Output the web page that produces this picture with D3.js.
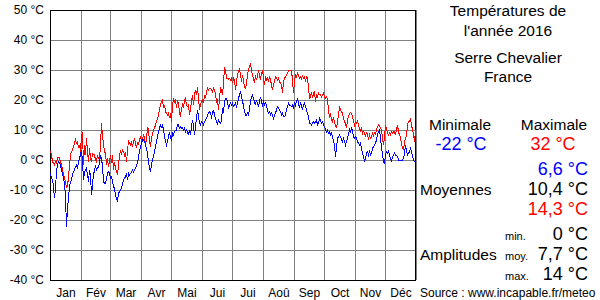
<!DOCTYPE html>
<html>
<head>
	<meta charset="utf-8">
	<title></title>
	<style>
		html, body {
			margin: 0;
			padding: 0;
			background: white;
			font-family: "Liberation Sans", Arial, sans-serif;
		}
		svg { display: block; }
		.grid line { stroke: #808080; }
		.grid .domain { display: none; }
		.ylab text { font-size: 12px; fill: #000; }
		.mlab text { font-size: 12px; fill: #000; }
		.mlab .domain, .mlab line { display: none; }
	</style>
</head>
<body>

<svg id="chart" width="600" height="300"></svg>

<script src="https://d3js.org/d3.v7.min.js"></script>
<script>

// daily maxima, 2016 (366 days), °C
var tmax = [
	3.0, 1.7, -0.6, -1.1, -1.7, -0.6, -1.1, 0.8, 0.8, 0.8,
	-0.6, -1.7, -3.3, -4.4, -6.1, -7.2, -9.4, -8.3, -6.1, -1.7,
	1.7, 2.8, 3.3, 4.4, 5.6, 6.7, 5.6, 6.1, 3.9, 5.0,
	2.8, 8.3, 8.9, -1.7, 5.0, 1.7, 7.2, 2.8, -0.6, 3.9,
	0.6, -0.6, 2.2, 1.7, 1.7, 0.0, -0.6, 1.7, 0.6, 0.0,
	5.0, 12.2, 8.3, 5.0, 2.8, 2.2, -1.7, 0.6, -2.2, -0.6,
	1.7, -1.1, 1.7, -3.3, -0.6, -2.8, -3.9, -5.0, -1.7, 1.7,
	2.8, 1.7, 3.3, 2.8, 1.7, 2.8, -0.6, 2.8, 6.7, 5.6,
	5.0, 5.9, 4.4, 6.1, 7.2, 5.6, 4.1, 6.1, 5.0, 6.7,
	7.8, 6.1, 7.2, 8.3, 7.8, 5.0, 6.7, 11.1, 10.0, 6.1,
	4.4, 7.2, 8.9, 10.0, 10.6, 11.7, 12.8, 13.9, 15.0, 16.7,
	18.3, 19.4, 20.0, 17.2, 18.3, 16.1, 15.6, 15.0, 15.6, 13.9,
	15.6, 12.8, 18.3, 20.6, 19.4, 20.0, 17.2, 20.0, 18.9, 15.6,
	14.4, 17.2, 18.3, 17.2, 20.0, 20.6, 18.3, 17.8, 18.3, 15.0,
	17.2, 19.4, 21.7, 18.3, 21.7, 23.3, 21.7, 24.4, 20.6, 16.7,
	18.3, 19.4, 20.0, 18.9, 21.7, 20.6, 22.8, 23.9, 23.3, 23.9,
	23.9, 23.3, 22.8, 23.9, 23.3, 22.2, 19.4, 20.0, 16.7, 20.6,
	23.9, 23.3, 21.7, 25.6, 30.6, 30.0, 27.2, 27.2, 27.0, 27.2,
	26.7, 27.2, 25.6, 27.2, 26.7, 23.3, 26.1, 28.3, 29.4, 30.6,
	28.3, 26.1, 28.3, 26.1, 24.4, 23.9, 25.6, 28.3, 30.0, 31.1,
	31.9, 30.0, 28.3, 27.2, 25.6, 28.3, 26.7, 27.8, 30.0, 28.3,
	26.7, 28.9, 30.0, 27.2, 25.0, 27.8, 26.7, 27.2, 26.1, 27.8,
	26.7, 25.0, 23.3, 25.0, 26.1, 27.8, 27.2, 26.7, 27.2, 26.1,
	25.6, 25.0, 22.2, 26.1, 27.2, 27.8, 28.3, 28.9, 29.7, 30.0,
	30.0, 29.7, 26.7, 22.2, 26.1, 28.3, 27.8, 28.9, 28.3, 27.2,
	27.8, 26.7, 28.3, 27.2, 27.8, 26.1, 27.8, 27.2, 24.4, 20.6,
	21.1, 22.8, 20.6, 22.2, 22.8, 19.4, 21.7, 21.1, 22.2, 21.7,
	21.7, 21.1, 21.7, 22.2, 21.1, 20.6, 21.1, 20.0, 16.7, 13.9,
	15.6, 13.3, 12.8, 14.4, 12.2, 11.7, 10.6, 12.8, 15.0, 17.8,
	16.7, 16.1, 15.6, 13.9, 12.8, 12.2, 10.6, 13.3, 14.4, 15.6,
	15.9, 15.6, 14.4, 12.8, 11.7, 12.8, 12.2, 13.3, 11.7, 10.6,
	9.4, 11.1, 8.3, 10.0, 8.9, 7.8, 9.4, 8.3, 7.2, 8.3,
	7.2, 7.8, 8.9, 7.8, 9.4, 8.3, 10.0, 11.1, 11.7, 11.4,
	10.6, 10.0, 7.2, 5.0, 7.8, 11.7, 10.6, 8.9, 8.3, 8.9,
	8.3, 9.4, 8.9, 9.4, 9.4, 8.3, 10.0, 11.7, 9.4, 8.3,
	7.8, 5.0, 4.4, 3.3, 6.1, 7.2, 8.3, 11.7, 12.8, 12.8,
	13.9, 11.7, 10.0, 8.9, 6.1, 10.0
]

// daily minima, °C
var tmin = [
	-4.4, -6.1, -6.7, -8.9, -12.8, -9.4, -3.9, -1.7, -0.6, -1.1,
	-1.7, -3.3, -4.4, -6.1, -7.8, -12.2, -22.2, -16.1, -12.8, -8.9,
	-7.2, -6.7, -5.0, -3.9, -3.3, -2.2, -1.7, -2.8, -0.6, 0.6,
	1.7, 3.3, -0.6, -6.7, -3.9, -3.3, -2.8, -5.0, -7.2, -3.3,
	-5.0, -11.7, -8.3, -4.4, -3.9, -1.7, -3.3, -2.8, -2.2, -1.1,
	1.7, 0.6, -2.2, -7.2, -7.8, -7.8, -6.1, -4.4, -3.9, -4.4,
	-6.1, -5.6, -7.2, -8.9, -9.4, -11.7, -12.8, -13.9, -11.1, -10.6,
	-10.0, -9.4, -7.8, -6.7, -6.1, -5.6, -4.4, -6.7, -4.4, -5.0,
	-4.4, -4.1, -3.3, -3.9, -3.3, -2.8, -1.7, -1.1, 1.1, 2.8,
	4.4, 5.6, 6.7, 6.7, 6.1, 5.0, 3.9, 2.2, -0.6, -2.8,
	-3.9, -1.7, 0.0, 1.1, 2.8, 4.4, 6.1, 7.8, 9.4, 10.6,
	11.7, 11.1, 11.7, 10.0, 7.8, 6.1, 5.0, 6.1, 7.8, 9.4,
	7.2, 6.7, 8.9, 8.3, 9.4, 10.0, 10.0, 11.7, 11.7, 10.6,
	11.1, 10.6, 10.8, 10.0, 10.6, 9.4, 10.0, 9.4, 8.3, 10.0,
	8.3, 11.1, 13.3, 11.1, 8.3, 11.1, 13.9, 16.7, 14.4, 12.2,
	11.7, 12.8, 12.2, 11.7, 12.8, 13.3, 13.9, 15.0, 15.6, 16.1,
	15.6, 14.4, 15.6, 16.7, 15.0, 13.9, 12.8, 11.7, 13.3, 12.8,
	12.2, 13.3, 17.2, 15.6, 19.4, 20.6, 20.6, 19.4, 17.2, 18.3,
	18.9, 18.3, 18.9, 17.8, 18.3, 18.9, 17.8, 18.9, 20.6, 21.7,
	22.8, 21.1, 19.4, 18.3, 16.1, 15.0, 15.0, 15.6, 15.0, 17.2,
	19.4, 21.1, 21.7, 20.6, 19.4, 18.3, 20.0, 18.9, 17.8, 19.4,
	21.1, 19.4, 18.3, 19.4, 18.3, 18.9, 18.3, 16.7, 15.6, 16.1,
	15.0, 15.6, 15.0, 13.9, 15.0, 15.6, 16.7, 17.8, 17.2, 16.7,
	16.1, 15.0, 15.6, 14.4, 14.4, 15.0, 16.7, 17.8, 18.9, 18.3,
	18.3, 17.8, 18.3, 17.2, 19.4, 18.3, 19.4, 20.6, 18.9, 17.2,
	19.4, 17.8, 16.7, 18.3, 18.9, 17.8, 16.7, 15.6, 14.4, 12.2,
	12.2, 11.7, 12.2, 12.8, 12.2, 12.8, 13.3, 11.7, 12.2, 13.9,
	13.3, 12.2, 12.8, 11.7, 11.1, 10.0, 9.4, 10.0, 8.9, 9.4,
	8.3, 8.9, 7.8, 6.1, 5.0, 1.1, 3.9, 7.2, 7.8, 8.3,
	7.8, 6.7, 6.1, 7.2, 6.1, 5.0, 6.1, 7.2, 8.9, 10.0,
	8.9, 11.1, 9.4, 7.8, 7.2, 7.8, 7.2, 6.1, 5.6, 5.0,
	5.6, 3.9, 2.2, 1.1, -0.6, 0.6, 2.2, 2.8, 1.7, 2.8,
	1.7, 2.2, 3.9, 4.4, 5.0, 5.6, 6.7, 8.3, 9.4, 10.0,
	7.2, 4.4, 1.7, -0.6, -1.1, 1.7, 2.8, 2.2, 3.3, 1.7,
	0.6, -0.3, 1.1, 1.7, 2.2, 1.7, 1.4, 1.1, 0.0, -0.3,
	-0.3, -0.3, 0.0, 0.6, 2.2, 5.0, 3.3, 1.7, 2.2, 2.8,
	3.9, 2.8, 1.1, 0.0, -0.6, -0.3
]

var months = ['Jan', 'Fév', 'Mar', 'Avr', 'Mai', 'Jui', 'Jui', 'Aoû', 'Sep', 'Oct', 'Nov', 'Déc']
var monthStarts = [0, 31, 60, 91, 121, 152, 182, 213, 244, 274, 305, 335, 366]
var yTicks = [-40, -30, -20, -10, 0, 10, 20, 30, 40, 50]

var titleLines = ['Températures de', "l'année 2016"]
var placeLines = ['Serre Chevalier', 'France']
var extremes = ['-22 °C', '32 °C']
var means = ['6,6 °C', '10,4 °C', '14,3 °C']
var amplitudes = ['0 °C', '7,7 °C', '14 °C']
var ampLabels = ['min.', 'moy.', 'max.']


var cfg = {
	left: 50,
	right: 416,
	top: 10,
	bottom: 280,
	panelX: 508,
}

var svg = d3.select('#chart')

var x = d3.scaleLinear()
	.domain([0, 366])
	.range([cfg.left, cfg.right])

var y = d3.scaleLinear()
	.domain([-40, 50])
	.range([cfg.bottom, cfg.top])

// horizontal grid + temperature labels
svg.append('g')
	.attr('class', 'grid ylab')
	.attr('transform', 'translate(' + cfg.left + ',0)')
	.call(d3.axisLeft(y)
		.tickValues(yTicks)
		.tickSize(-(cfg.right - cfg.left))
		.tickPadding(6)
		.tickFormat(function(d) { return d + ' °C' }))
	.call(function(g) { g.selectAll('text').attr('font-family', null) })

// vertical grid at month starts
svg.append('g')
	.attr('class', 'grid')
	.attr('transform', 'translate(0,' + cfg.bottom + ')')
	.call(d3.axisBottom(x)
		.tickValues(monthStarts)
		.tickSize(-(cfg.bottom - cfg.top))
		.tickFormat(''))

// month names, centred in each month
var monthMids = months.map(function(m, i) { return (monthStarts[i] + monthStarts[i + 1]) / 2 })
svg.append('g')
	.attr('class', 'mlab')
	.attr('transform', 'translate(0,' + cfg.bottom + ')')
	.call(d3.axisBottom(x)
		.tickValues(monthMids)
		.tickSize(0)
		.tickPadding(8)
		.tickFormat(function(d, i) { return months[i] }))

// frame
svg.append('rect')
	.attr('x', cfg.left + 0.5)
	.attr('y', cfg.top + 0.5)
	.attr('width', cfg.right - cfg.left - 1)
	.attr('height', cfg.bottom - cfg.top)
	.attr('fill', 'none')
	.attr('stroke', 'black')

// the two daily series (drawn aliased, like the original gif)
var line = d3.line()
	.x(function(d, i) { return x(i) + 0.5 })
	.y(function(d) { return y(d) })

svg.append('path')
	.datum(tmax)
	.attr('d', line)
	.attr('fill', 'none')
	.attr('stroke', '#ff0000')
	.attr('stroke-width', 1)
	.attr('shape-rendering', 'crispEdges')

svg.append('path')
	.datum(tmin)
	.attr('d', line)
	.attr('fill', 'none')
	.attr('stroke', '#0000ff')
	.attr('stroke-width', 1)
	.attr('shape-rendering', 'crispEdges')

//
// summary panel on the right
//
var panel = svg.append('g')

function txt(str, px, py, anchor, size, color) {
	return panel.append('text')
		.attr('x', px)
		.attr('y', py)
		.attr('text-anchor', anchor)
		.attr('font-size', size)
		.attr('fill', color || '#000')
		.text(str)
}

titleLines.forEach(function(s, i) { txt(s, cfg.panelX, 16 + i * 20, 'middle', 15.5) })
placeLines.forEach(function(s, i) { txt(s, cfg.panelX, 63 + i * 19, 'middle', 15.5) })

txt('Minimale', 460, 130, 'middle', 15.5)
txt('Maximale', 554, 130, 'middle', 15.5)
txt(extremes[0], 461, 150, 'middle', 18, '#0000ff')
txt(extremes[1], 553, 150, 'middle', 18, '#ff0000')

var meanColors = ['#0000ff', '#000', '#ff0000']
means.forEach(function(s, i) { txt(s, 588, 175 + i * 20, 'end', 18, meanColors[i]) })
txt('Moyennes', 420, 195, 'start', 15.5)

amplitudes.forEach(function(s, i) { txt(s, 588, 240 + i * 20, 'end', 18) })
ampLabels.forEach(function(s, i) { txt(s, 505, 240 + i * 20, 'start', 11) })
txt('Amplitudes', 420, 260, 'start', 15.5)

txt('Source : www.incapable.fr/meteo', 420, 297, 'start', 12)

</script>

</body>
</html>
